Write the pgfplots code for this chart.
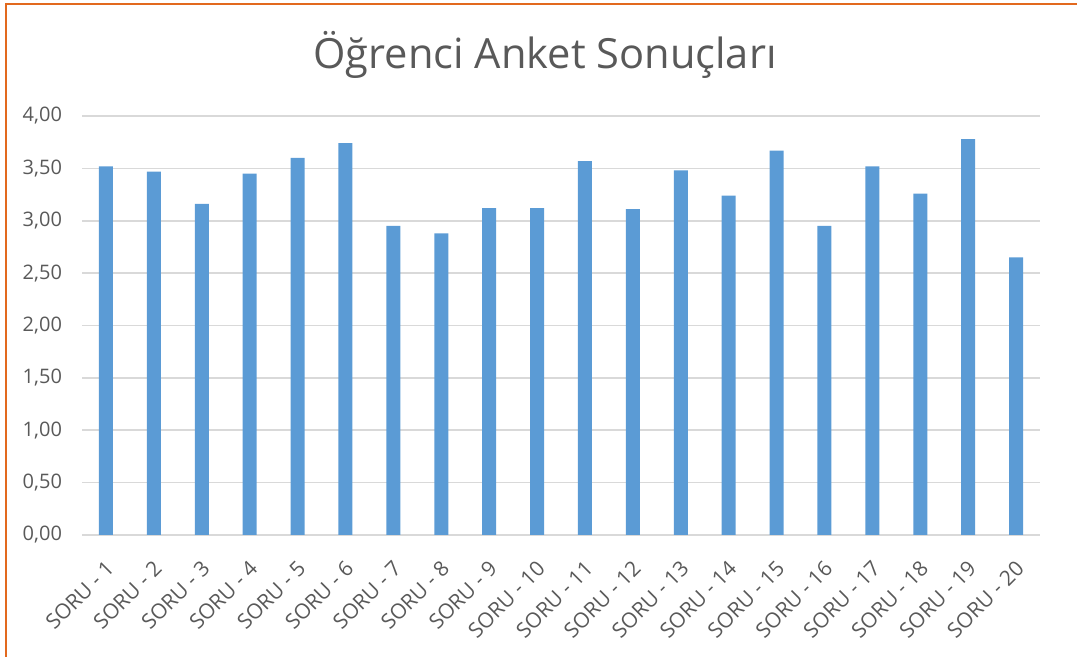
\documentclass[border=0pt]{standalone}
\usepackage{fontspec}
\setmainfont{Open Sans}
\usepackage{pgfplots}
\pgfplotsset{compat=1.18}
\definecolor{barblue}{HTML}{5B9BD5}
\definecolor{txtgray}{HTML}{595959}
\definecolor{gridgray}{HTML}{D9D9D9}
\definecolor{frameorange}{HTML}{E2691E}
\begin{document}
\begin{tikzpicture}
\path[use as bounding box] (0,0) rectangle (538.5pt,328.5pt);
\draw[frameorange, line width=1pt] (3pt,0) -- (3pt,326.5pt) -- (538.5pt,326.5pt);
\node[anchor=base, text=txtgray, font=\fontsize{20.8pt}{24pt}\selectfont, inner sep=0pt] at (272.5pt,294pt) {Öğrenci Anket Sonuçları};
\begin{axis}[
  at={(41pt,61pt)}, anchor=south west,
  scale only axis, width=479pt, height=209.5pt,
  xmin=-0.5, xmax=19.5, ymin=0, ymax=4,
  ytick={0,0.5,1,1.5,2,2.5,3,3.5,4},
  xtick={0,...,19},
  xticklabels={SORU - 1,SORU - 2,SORU - 3,SORU - 4,SORU - 5,SORU - 6,SORU - 7,SORU - 8,SORU - 9,SORU - 10,SORU - 11,SORU - 12,SORU - 13,SORU - 14,SORU - 15,SORU - 16,SORU - 17,SORU - 18,SORU - 19,SORU - 20},
  axis x line*=bottom, axis y line*=left,
  x axis line style={draw=gridgray, line width=0.9pt, -},
  y axis line style={draw=none},
  major tick length=0pt,
  ymajorgrids, grid style={gridgray, line width=0.8pt},
  tick label style={text=txtgray, font=\fontsize{10pt}{12pt}\selectfont},
  /pgf/number format/.cd, fixed, fixed zerofill, precision=2, use comma, assume math mode=true,
  /pgfplots/.cd,
  yticklabel style={xshift=-6.5pt},
  xticklabel style={xshift=4.5pt, yshift=-12.5pt, rotate=45, anchor=east, font=\fontsize{10.5pt}{12pt}\selectfont},
  ybar, bar width=7pt,
]
\addplot[fill=barblue, draw=none] coordinates {
(0,3.52) (1,3.47) (2,3.16) (3,3.45) (4,3.60) (5,3.74) (6,2.95) (7,2.88) (8,3.12) (9,3.12)
(10,3.57) (11,3.11) (12,3.48) (13,3.24) (14,3.67) (15,2.95) (16,3.52) (17,3.26) (18,3.78) (19,2.65)
};
\end{axis}
\end{tikzpicture}
\end{document}
